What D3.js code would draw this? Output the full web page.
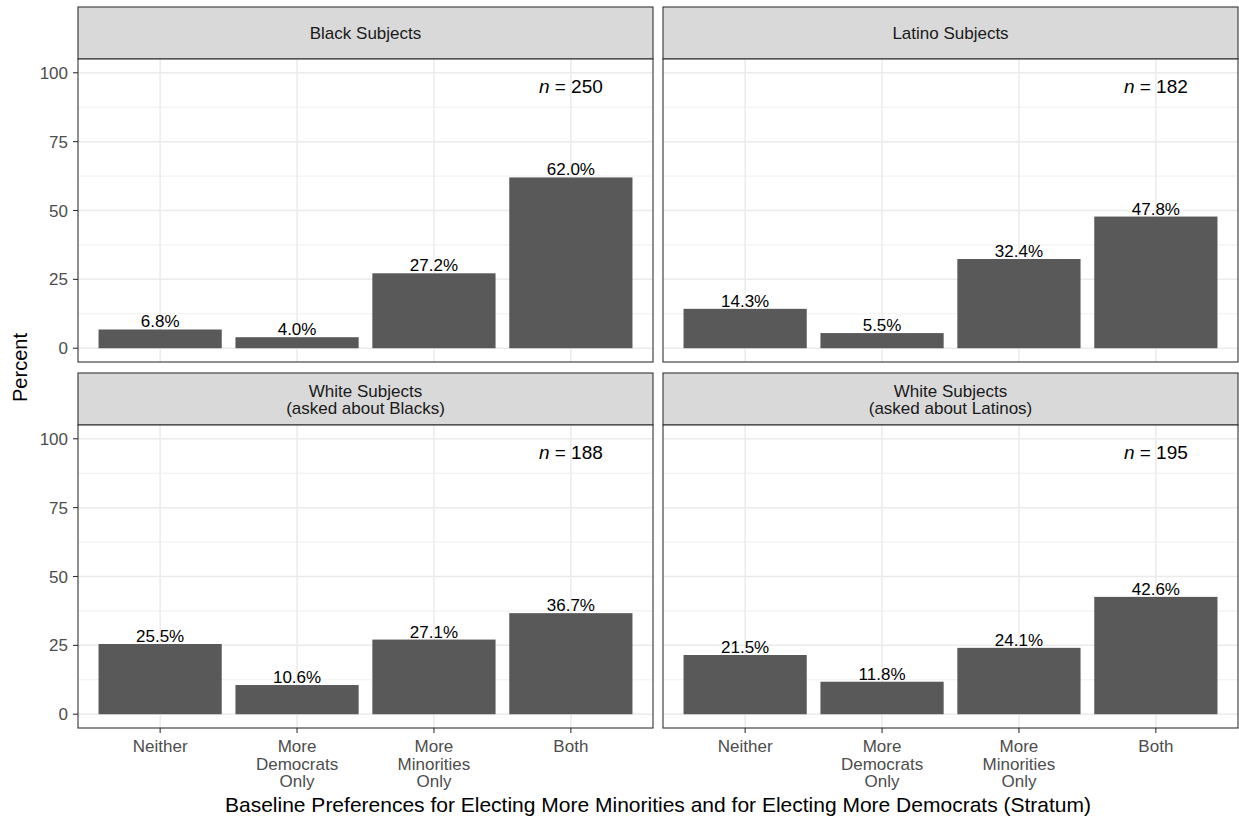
<!DOCTYPE html>
<html>
<head>
<meta charset="utf-8">
<script src="https://cdn.jsdelivr.net/npm/d3@7"></script>
<style>
  body { margin: 0; background: #fff; }
  text { font-family: "Liberation Sans", Arial, sans-serif; }
</style>
</head>
<body>
<div class="canvas"></div>
<script>
const categories = ["Neither", "More\nDemocrats\nOnly", "More\nMinorities\nOnly", "Both"];
const panelTitles = ["Black Subjects", "Latino Subjects", "White Subjects\n(asked about Blacks)", "White Subjects\n(asked about Latinos)"];
const blackVals = [6.8, 4.0, 27.2, 62.0];
const latinoVals = [14.3, 5.5, 32.4, 47.8];
const whiteBlackVals = [25.5, 10.6, 27.1, 36.7];
const whiteLatinoVals = [21.5, 11.8, 24.1, 42.6];
const sampleSizes = [250, 182, 188, 195];
const yTicks = [0, 25, 50, 75, 100];
const yMinor = [12.5, 37.5, 62.5, 87.5];

const panelVals = [blackVals, latinoVals, whiteBlackVals, whiteLatinoVals];

const w = 1239, h = 819;
const svg = d3.select(".canvas").append("svg").attr("width", w).attr("height", h);

const panelW = 575, panelH = 303, stripH = 52;
const colX = [78, 663];
const rowY = [7, 373];

// discrete x, ggplot-style 0.6 expansion each side
const x = d3.scalePoint().domain(categories).range([0, panelW]).padding(0.6);
const bw = x.step() * 0.9;
const y = d3.scaleLinear([-5, 105], [panelH, 0]);

panelVals.forEach((vals, p) => {
  const col = p % 2, row = Math.floor(p / 2);
  const g = svg.append("g").attr("transform", `translate(${colX[col]}, ${rowY[row]})`);
  const data = vals.map((v, i) => ({ cat: categories[i], v }));

  // strip
  g.append("rect").attr("width", panelW).attr("height", stripH)
    .attr("fill", "#d9d9d9").attr("stroke", "#333333").attr("stroke-width", 1.1);
  const lines = panelTitles[p].split("\n");
  const st = g.append("text").attr("text-anchor", "middle")
    .attr("font-size", 17).attr("fill", "#1a1a1a");
  lines.forEach((l, i) => {
    st.append("tspan").attr("x", panelW / 2)
      .attr("y", stripH / 2 + 6 + (i - (lines.length - 1) / 2) * 17).text(l);
  });

  const pg = g.append("g").attr("transform", `translate(0, ${stripH})`);
  pg.append("rect").attr("width", panelW).attr("height", panelH).attr("fill", "#fff");

  // grid
  pg.selectAll(".minor").data(yMinor).join("line")
    .attr("x1", 0).attr("x2", panelW).attr("y1", d => y(d)).attr("y2", d => y(d))
    .attr("stroke", "#ebebeb").attr("stroke-width", 0.8);
  pg.selectAll(".major").data(yTicks).join("line")
    .attr("x1", 0).attr("x2", panelW).attr("y1", d => y(d)).attr("y2", d => y(d))
    .attr("stroke", "#ebebeb").attr("stroke-width", 1.5);
  pg.selectAll(".vgrid").data(categories).join("line")
    .attr("x1", d => x(d)).attr("x2", d => x(d)).attr("y1", 0).attr("y2", panelH)
    .attr("stroke", "#ebebeb").attr("stroke-width", 1.5);

  // bars + labels
  pg.selectAll(".bar").data(data).join("rect")
    .attr("x", d => x(d.cat) - bw / 2).attr("width", bw)
    .attr("y", d => y(d.v)).attr("height", d => y(0) - y(d.v))
    .attr("fill", "#595959");
  pg.selectAll(".lab").data(data).join("text")
    .attr("x", d => x(d.cat)).attr("y", d => y(d.v) - 2)
    .attr("text-anchor", "middle").attr("font-size", 17).attr("fill", "#000")
    .text(d => d.v.toFixed(1) + "%");

  // n label
  const nt = pg.append("text").attr("x", x("Both")).attr("y", y(95) + 6.5)
    .attr("text-anchor", "middle").attr("font-size", 19).attr("fill", "#000");
  nt.append("tspan").attr("font-style", "italic").text("n");
  nt.append("tspan").text(" = " + sampleSizes[p]);

  pg.append("rect").attr("width", panelW).attr("height", panelH)
    .attr("fill", "none").attr("stroke", "#333333").attr("stroke-width", 1.1);

  // y axis on left column only
  if (col === 0) {
    pg.selectAll(".yt").data(yTicks).join("line")
      .attr("x1", -5).attr("x2", 0).attr("y1", d => y(d)).attr("y2", d => y(d))
      .attr("stroke", "#333333").attr("stroke-width", 1.1);
    pg.selectAll(".yl").data(yTicks).join("text")
      .attr("x", -10).attr("y", d => y(d) + 6).attr("text-anchor", "end")
      .attr("font-size", 17).attr("fill", "#4d4d4d").text(d => d);
  }
  // x axis on bottom row only
  if (row === 1) {
    pg.selectAll(".xt").data(categories).join("line")
      .attr("x1", d => x(d)).attr("x2", d => x(d))
      .attr("y1", panelH).attr("y2", panelH + 5)
      .attr("stroke", "#333333").attr("stroke-width", 1.1);
    categories.forEach(c => {
      const t = pg.append("text").attr("text-anchor", "middle")
        .attr("font-size", 17).attr("fill", "#4d4d4d");
      c.split("\n").forEach((l, k) => {
        t.append("tspan").attr("x", x(c)).attr("y", panelH + 24 + k * 17.5).text(l);
      });
    });
  }
});

svg.append("text").attr("transform", `translate(27, ${(rowY[0] + rowY[1] + stripH + panelH) / 2}) rotate(-90)`)
  .attr("text-anchor", "middle").attr("font-size", 20).attr("fill", "#000").text("Percent");
svg.append("text").attr("x", (colX[0] + colX[1] + panelW) / 2).attr("y", 812)
  .attr("text-anchor", "middle").attr("font-size", 21).attr("fill", "#000")
  .text("Baseline Preferences for Electing More Minorities and for Electing More Democrats (Stratum)");
</script>
</body>
</html>
